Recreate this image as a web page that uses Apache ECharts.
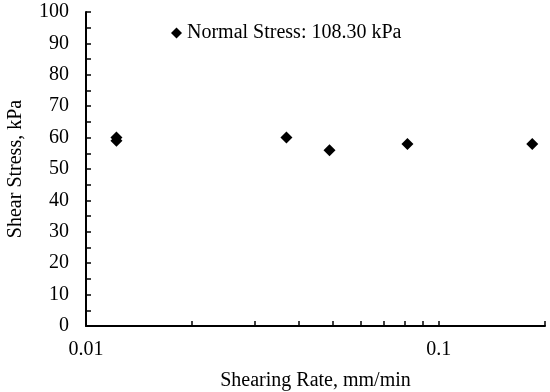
<!DOCTYPE html>
<html>
<head>
<meta charset="utf-8">
<script src="https://cdn.jsdelivr.net/npm/echarts@6/dist/echarts.min.js"></script>
<style>html,body{margin:0;padding:0;background:#fff}#c{width:550px;height:392px}</style>
</head>
<body>
<div id="c"></div>
<script>
var seriesName = 'Normal Stress: 108.30 kPa';
var shearRate = [0.0122, 0.0122, 0.037, 0.049, 0.0815, 0.184];
var shearStress = [60, 59, 60, 56, 58, 58];
var xTickValues = [0.01, 0.02, 0.03, 0.04, 0.05, 0.06, 0.07, 0.08, 0.09, 0.1, 0.2];
var xLabelValues = [0.01, 0.1];
var xTitle = 'Shearing Rate, mm/min';
var yTitle = 'Shear Stress, kPa';

var font = 'Liberation Serif';
var chart = echarts.init(document.getElementById('c'));
chart.setOption({
  animation: false,
  grid: {left: 86, right: 5, top: 12, bottom: 66, outerBoundsMode: 'none', containLabel: false},
  legend: {
    show: true, left: 166, top: 18, itemWidth: 11, itemHeight: 11, itemGap: 3,
    textStyle: {fontFamily: font, fontSize: 20, color: '#000'},
    data: [{name: seriesName, icon: 'diamond', itemStyle: {color: '#000', opacity: 1}}]
  },
  xAxis: {
    type: 'log', min: 0.01, max: 0.2, logBase: 10,
    name: xTitle, nameLocation: 'middle', nameGap: 45,
    nameTextStyle: {fontFamily: font, fontSize: 20, color: '#000'},
    axisLine: {lineStyle: {color: '#000', width: 2}},
    axisTick: {show: true, inside: true, length: 5, lineStyle: {color: '#000', width: 1.5}, customValues: xTickValues},
    axisLabel: {fontFamily: font, fontSize: 20, color: '#000', margin: 14, customValues: xLabelValues,
      formatter: function (v) { return String(v); }},
    splitLine: {show: false}
  },
  yAxis: {
    type: 'value', min: 0, max: 100, interval: 5,
    name: yTitle, nameLocation: 'middle', nameGap: 60, nameRotate: 90,
    nameTextStyle: {fontFamily: font, fontSize: 20, color: '#000'},
    axisLine: {show: true, lineStyle: {color: '#000', width: 2}},
    axisTick: {show: true, inside: true, length: 5, lineStyle: {color: '#000', width: 1.5}},
    axisLabel: {fontFamily: font, fontSize: 20, color: '#000', margin: 17,
      formatter: function (v) { return v % 10 === 0 ? String(v) : ''; }},
    splitLine: {show: false}
  },
  series: [{
    name: seriesName, type: 'scatter', symbol: 'diamond', symbolSize: 12,
    itemStyle: {color: '#000', opacity: 1},
    data: shearRate.map(function (x, i) { return [x, shearStress[i]]; })
  }]
});
</script>
</body>
</html>
